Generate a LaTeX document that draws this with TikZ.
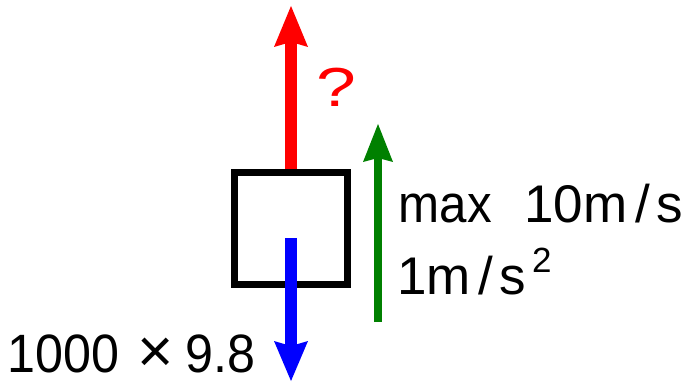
\documentclass[tikz,border=0pt]{standalone}
\usepackage{fontspec}
\setmainfont{Liberation Sans}
\usepackage{graphicx}
\usetikzlibrary{arrows.meta}
\definecolor{fgreen}{RGB}{0,128,0}
\begin{document}
\begin{tikzpicture}[x=1pt,y=-1pt,
  body/.style={draw, line width=7pt, inner sep=0pt, minimum width=113pt, minimum height=112.5pt},
  bigtip/.style={-{Stealth[length=#1, width=34pt, inset=5pt, line width=0pt]}},
  lbl/.style={inner sep=0pt, outer sep=0pt, anchor=base west},
]
\useasboundingbox (0,0) rectangle (684,382);
% body
\node[body] (box) at (291,228.25) {};
% coordinates
\coordinate (redtip) at (291,6);
\coordinate (bluestart) at (291,238);
\coordinate (bluetip) at (291,381);
\coordinate (greenstart) at (378,322);
\coordinate (greentip) at (378,124);
% forces
\draw[bigtip=41pt, line width=12pt, red] (box.north) -- (redtip);
\draw[bigtip=40pt, line width=12pt, blue] (bluestart) -- (bluetip);
\draw[-{Stealth[length=38pt, width=30pt, inset=4pt, line width=0pt]}, line width=7.5pt, fgreen] (greenstart) -- (greentip);
% labels
\node[red, inner sep=0pt, anchor=base] (q) at (336.5,107) {\fontsize{55}{55}\selectfont\scalebox{1.3}[1]{?}};
\node[lbl] (vmax) at (398.7,222) {\fontsize{53}{60}\selectfont\scalebox{0.93}[1]{max}\hspace{32.4pt}10m\kern8pt/\kern6pt s};
\node[lbl] (acc) at (397.2,294) {\fontsize{53}{60}\selectfont 1m\kern8pt/\kern6pt s\kern6pt\raisebox{22pt}{\fontsize{35}{35}\selectfont 2}};
\node[lbl] (wt) at (7.5,372.5) {\fontsize{54}{60}\selectfont\scalebox{0.93}[1]{1000}\kern18pt\scalebox{1.15}{×}\kern12pt\scalebox{0.93}[1]{9.8}};
\end{tikzpicture}
\end{document}
